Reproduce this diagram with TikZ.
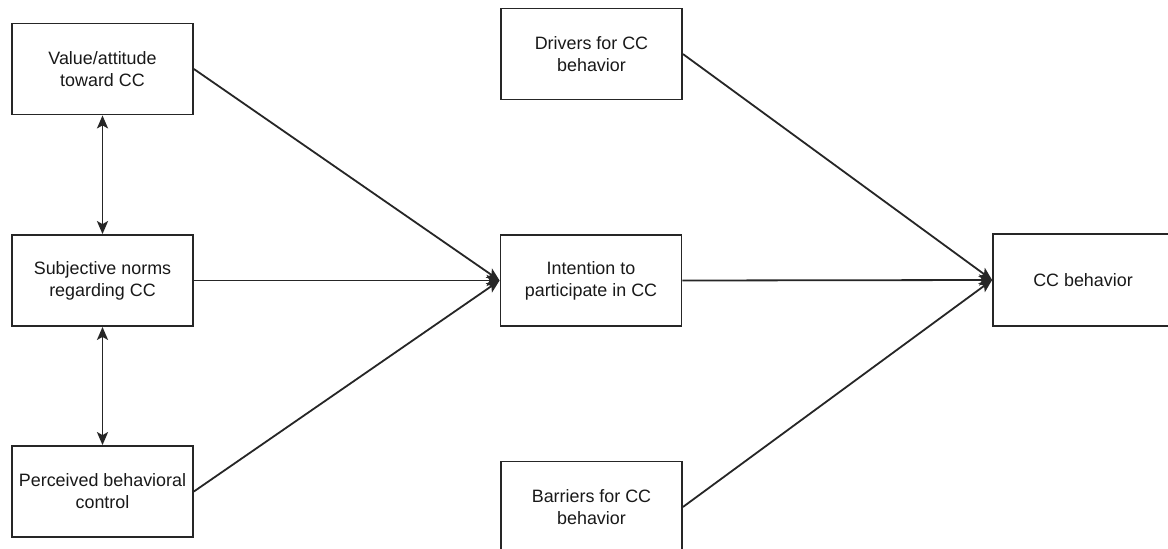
\documentclass[tikz,border=0pt]{standalone}
\usepackage{fontspec}
\setmainfont{Liberation Sans}
\usetikzlibrary{arrows.meta}
\begin{document}
\begin{tikzpicture}[x=1pt,y=-1pt,
  box/.style={draw=black!85, line width=1.8pt, rectangle, inner sep=0pt,
    minimum width=181pt, minimum height=91pt, align=center,
    font=\fontsize{17.9}{22}\selectfont, text=black!90},
  conn/.style={draw=black!85, line width=1.8pt, -{Stealth[length=13pt,width=11pt,inset=3pt]}},
  dconn/.style={draw=black!85, line width=1.8pt, {Stealth[length=13pt,width=11pt,inset=3pt]}-{Stealth[length=13pt,width=11pt,inset=3pt]}}]
\useasboundingbox (0,0) rectangle (1168,549);
\clip (0,0) rectangle (1168,549);
\fill[white] (0,0) rectangle (1168,549);
\node[box] (val) at (102.5,69) {Value/attitude\\toward CC};
\node[box] (sub) at (102.5,280.5) {Subjective norms\\regarding CC};
\node[box] (per) at (102.5,491.5) {Perceived behavioral\\control};
\node[box] (drv) at (591.5,54) {Drivers for CC\\behavior};
\node[box] (int) at (591,280.5) {Intention to\\participate in CC};
\node[box] (bar) at (591.5,507) {Barriers for CC\\behavior};
\node[box, minimum width=180pt, minimum height=92pt] (ccb) at (1083,280) {CC behavior};
\draw[dconn] (val.south) -- (sub.north);
\draw[dconn] (sub.south) -- (per.north);
\draw[conn] (val.east) -- (int.west);
\draw[conn] (sub.east) -- (int.west);
\draw[conn] (per.east) -- (int.west);
\draw[conn] (drv.east) -- (ccb.west);
\draw[conn] (int.east) -- (ccb.west);
\draw[conn] (bar.east) -- (ccb.west);
\end{tikzpicture}
\end{document}
